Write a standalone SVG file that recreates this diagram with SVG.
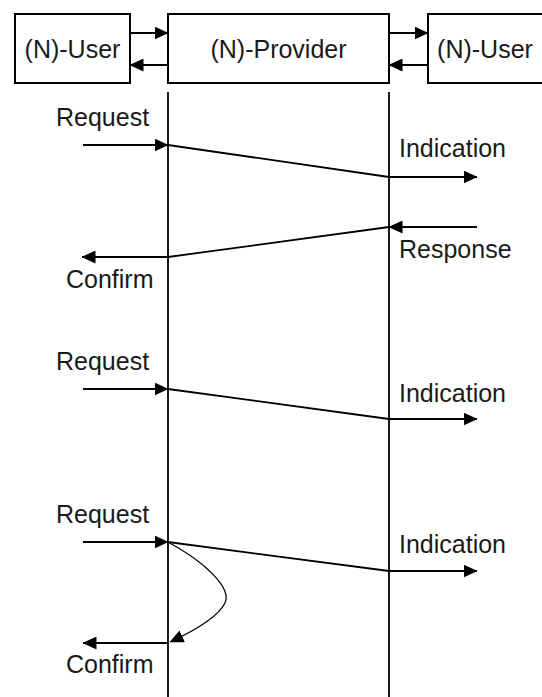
<svg xmlns="http://www.w3.org/2000/svg" width="542" height="697" viewBox="0 0 542 697">
<style>
.box{fill:#fff;stroke:#000;stroke-width:2}
.t{font-family:"Liberation Sans",Arial,sans-serif;font-size:25px;fill:#1a1a1a}
.ln{fill:none;stroke:#000;stroke-width:1.8}
.thin{fill:none;stroke:#000;stroke-width:1.3}
.a{marker-end:url(#ah)}
</style>
<defs>
<marker id="ah" viewBox="0 0 14 13" refX="13.5" refY="6.5" markerWidth="14" markerHeight="13" markerUnits="userSpaceOnUse" orient="auto">
<path d="M0,0 L14,6.5 L0,13 z" fill="#000"/>
</marker>
</defs>
<rect width="542" height="697" fill="#fff"/>
<g id="user-left">
<rect class="box" x="15" y="14" width="115" height="69"/>
<text class="t" x="72.5" y="58" text-anchor="middle">(N)-User</text>
</g>
<g id="provider">
<rect class="box" x="168" y="14" width="221" height="69"/>
<text class="t" x="278.5" y="58" text-anchor="middle">(N)-Provider</text>
</g>
<g id="user-right">
<rect class="box" x="428" y="14" width="116" height="69"/>
<text class="t" x="485" y="58" text-anchor="middle">(N)-User</text>
</g>
<g id="connectors">
<line class="ln a" x1="130" y1="33" x2="168" y2="33"/>
<line class="ln a" x1="168" y1="65" x2="130" y2="65"/>
<line class="ln a" x1="389" y1="33" x2="428" y2="33"/>
<line class="ln a" x1="428" y1="65" x2="389" y2="65"/>
<line class="ln" x1="168" y1="92" x2="168" y2="697"/>
<line class="ln" x1="389" y1="92" x2="389" y2="697"/>
<line class="ln a" x1="83" y1="145" x2="168" y2="145"/>
<line class="ln" x1="168" y1="145" x2="389" y2="177"/>
<line class="ln a" x1="389" y1="177" x2="477" y2="177"/>
<line class="ln a" x1="477" y1="227" x2="389" y2="227"/>
<line class="ln" x1="389" y1="227" x2="168" y2="257"/>
<line class="ln a" x1="168" y1="257" x2="82" y2="257"/>
<line class="ln a" x1="83" y1="389" x2="168" y2="389"/>
<line class="ln" x1="168" y1="389" x2="389" y2="419"/>
<line class="ln a" x1="389" y1="419" x2="477" y2="419"/>
<line class="ln a" x1="83" y1="542" x2="168" y2="542"/>
<line class="ln" x1="168" y1="542" x2="389" y2="571"/>
<line class="ln a" x1="389" y1="571" x2="477" y2="571"/>
<path class="thin a" d="M168,542 C205,562 232,588 225,603 C218,617 196,630 170,642"/>
<line class="ln a" x1="168" y1="643" x2="83" y2="643"/>
</g>
<g id="labels">
<text class="t" x="56" y="126">Request</text>
<text class="t" x="399" y="157">Indication</text>
<text class="t" x="399" y="258">Response</text>
<text class="t" x="66" y="288">Confirm</text>
<text class="t" x="56" y="370">Request</text>
<text class="t" x="399" y="402">Indication</text>
<text class="t" x="56" y="523">Request</text>
<text class="t" x="399" y="553">Indication</text>
<text class="t" x="66" y="673">Confirm</text>
</g>
</svg>
